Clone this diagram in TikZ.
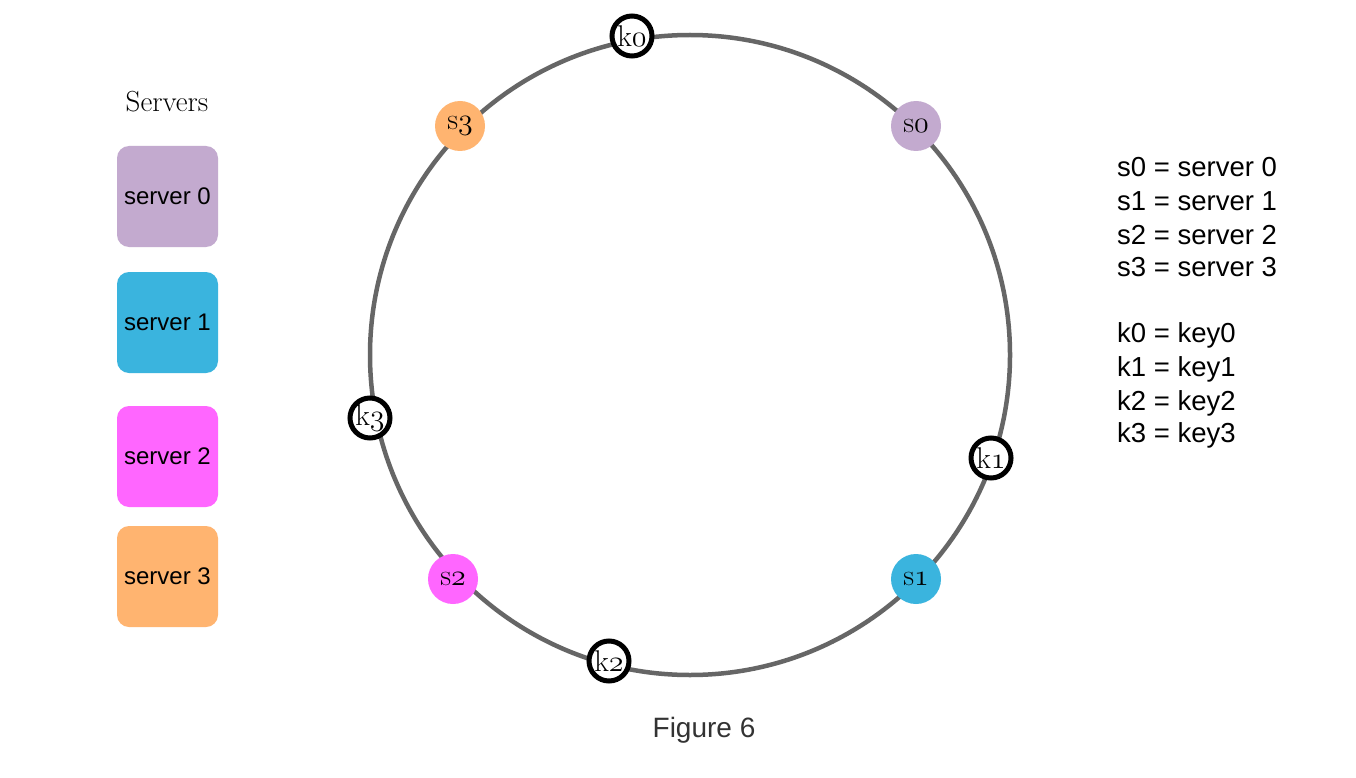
\RequirePackage{fix-cm}
\documentclass[tikz,border=0pt]{standalone}
\usepackage{fontspec}
\newfontfamily\helv{Liberation Sans}
\newcommand{\osn}[1]{$\mathnormal{#1}$}
\definecolor{ringgray}{HTML}{666666}
\definecolor{cserv0}{HTML}{C3AACF}
\definecolor{cserv1}{HTML}{3AB4DE}
\definecolor{cserv2}{HTML}{FF66FF}
\definecolor{cserv3}{HTML}{FFB470}
\definecolor{figgray}{HTML}{333333}
\begin{document}
\begin{tikzpicture}[x=1pt,y=-1pt,
  srv/.style={circle,minimum size=50pt,inner sep=0pt,draw=none,font=\fontsize{30}{30}\selectfont},
  keynode/.style={circle,minimum size=40pt,inner sep=0pt,draw=black,line width=5pt,fill=white,font=\fontsize{30}{30}\selectfont},
  serverbox/.style={rounded corners=12pt,minimum width=101pt,minimum height=101pt,inner sep=0pt,font=\helv\fontsize{24}{26}\selectfont},
  legend/.style={anchor=west,font=\helv\fontsize{27.5}{30}\selectfont,inner sep=0pt}]
\useasboundingbox (0,0) rectangle (1356,778);
\fill[white] (0,0) rectangle (1356,778);
% ring
\node[circle,draw=ringgray,line width=4.5pt,minimum size=640pt,inner sep=0pt] (ring) at (690,355) {};
% servers on ring
\node[srv,fill=cserv3] (s3) at (460,126) {s\osn{3}};
\node[srv,fill=cserv0] (s0) at (916,126) {s\osn{0}};
\node[srv,fill=cserv1] (s1) at (916,579) {s\osn{1}};
\node[srv,fill=cserv2] (s2) at (453,579) {s\osn{2}};
% keys on ring
\node[keynode] (k0) at (632,36) {k\osn{0}};
\node[keynode] (k1) at (991,458) {k\osn{1}};
\node[keynode] (k2) at (609,661) {k\osn{2}};
\node[keynode] (k3) at (370,418) {k\osn{3}};
% server list
\node[font=\fontsize{29}{29}\selectfont] (title) at (167,102) {Servers};
\node[serverbox,fill=cserv0] (b0) at (167.5,196.5) {server 0};
\node[serverbox,fill=cserv1] (b1) at (167.5,322.5) {server 1};
\node[serverbox,fill=cserv2] (b2) at (167.5,456.5) {server 2};
\node[serverbox,fill=cserv3] (b3) at (167.5,576.5) {server 3};
% legend
\node[legend] (l0) at (1117,167) {s0 = server 0};
\node[legend] (l1) at (1117,201) {s1 = server 1};
\node[legend] (l2) at (1117,235) {s2 = server 2};
\node[legend] (l3) at (1117,267) {s3 = server 3};
\node[legend] (l4) at (1117,335) {k0 = key0};
\node[legend] (l5) at (1117,369) {k1 = key1};
\node[legend] (l6) at (1117,403) {k2 = key2};
\node[legend] (l7) at (1117,435) {k3 = key3};
% caption
\node[font=\helv\fontsize{28}{30}\selectfont,text=figgray] (cap) at (704,730) {Figure 6};
\end{tikzpicture}
\end{document}
